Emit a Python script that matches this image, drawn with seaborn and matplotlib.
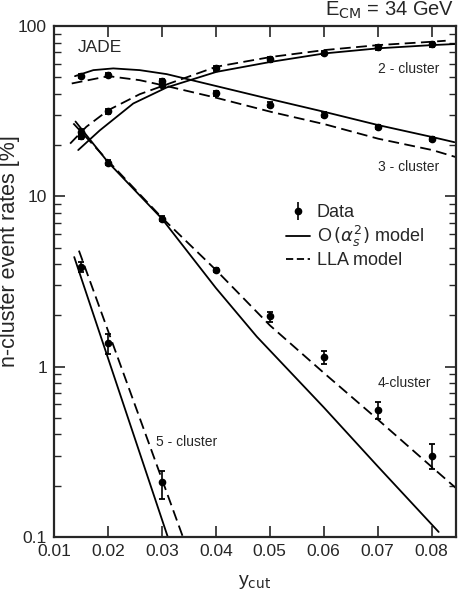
import numpy as np
import pandas as pd
import matplotlib
matplotlib.use("Agg")
import matplotlib.pyplot as plt
from matplotlib.lines import Line2D
from matplotlib.ticker import FixedLocator, LogLocator, NullFormatter
import seaborn as sns

# ---------------- data ----------------
ycut = [0.015, 0.02, 0.03, 0.04, 0.05, 0.06, 0.07, 0.08]
two_cl = [24.0, 31.6, 45.0, 56.4, 63.7, 69.6, 75.0, 78.0]
three_cl = [50.8, 51.5, 47.4, 40.2, 34.6, 30.2, 25.6, 21.8]
four_cl = [22.5, 15.8, 7.4, 3.7, 1.97, 1.14, 0.56, 0.30]
four_lo = [0.7, 0.5, 0.25, 0.12, 0.15, 0.10, 0.07, 0.05]
four_hi = [0.7, 0.5, 0.25, 0.12, 0.11, 0.10, 0.06, 0.05]
five_x = [0.015, 0.02, 0.03]
five_cl = [3.84, 1.37, 0.209]
five_lo = [0.24, 0.18, 0.041]
five_hi = [0.26, 0.19, 0.035]

# model curves (x, y)
c2_o_x = [0.0145, 0.0185, 0.0247, 0.0309, 0.0401, 0.0503, 0.0602, 0.0701, 0.0801, 0.0843]
c2_o_y = [18.7, 24.4, 35.1, 43.6, 53.8, 61.7, 69.1, 74.0, 77.3, 78.4]
c2_l_x = [0.0130, 0.0160, 0.0201, 0.0259, 0.0309, 0.0401, 0.0503, 0.0602, 0.0701, 0.0801, 0.0826]
c2_l_y = [20.4, 25.6, 32.1, 39.8, 45.4, 57.7, 65.9, 72.3, 77.3, 80.9, 82.0]
c3_o_x = [0.0139, 0.0173, 0.0210, 0.0259, 0.0309, 0.0401, 0.0503, 0.0602, 0.0701, 0.0801, 0.0842]
c3_o_y = [50.8, 55.1, 56.4, 55.1, 52.2, 44.4, 37.1, 31.3, 26.2, 22.3, 20.8]
c3_l_x = [0.0133, 0.0201, 0.0259, 0.0309, 0.0401, 0.0503, 0.0602, 0.0701, 0.0801, 0.0845]
c3_l_y = [46.0, 50.8, 48.1, 44.4, 37.9, 31.3, 26.5, 21.8, 18.7, 17.0]
c4_o_x = [0.0140, 0.0200, 0.0300, 0.0400, 0.0476, 0.0600, 0.0700, 0.0813]
c4_o_y = [27.5, 15.9, 7.4, 2.9, 1.5, 0.577, 0.26, 0.107]
c4_l_x = [0.0136, 0.0200, 0.0300, 0.0400, 0.0500, 0.0600, 0.0700, 0.0800, 0.0848]
c4_l_y = [26.8, 16.2, 7.5, 3.7, 1.75, 0.92, 0.49, 0.258, 0.19]
c5_o_x = [0.01376, 0.0311]
c5_o_y = [4.4, 0.1]
c5_l_x = [0.01463, 0.0339]
c5_l_y = [4.8, 0.1]

xticks = [0.01, 0.02, 0.03, 0.04, 0.05, 0.06, 0.07, 0.08]
xticklabels = ["0.01", "0.02", "0.03", "0.04", "0.05", "0.06", "0.07", "0.08"]
yticks = [0.1, 1, 10, 100]
yticklabels = ["0.1", "1", "10", "100"]

# ---------------- build table of curves ----------------
rows = []
for name, xs, ys, model in [
    ("c2o", c2_o_x, c2_o_y, "O"), ("c2l", c2_l_x, c2_l_y, "LLA"),
    ("c3o", c3_o_x, c3_o_y, "O"), ("c3l", c3_l_x, c3_l_y, "LLA"),
    ("c4o", c4_o_x, c4_o_y, "O"), ("c4l", c4_l_x, c4_l_y, "LLA"),
    ("c5o", c5_o_x, c5_o_y, "O"), ("c5l", c5_l_x, c5_l_y, "LLA"),
]:
    for i, (x, y) in enumerate(zip(xs, ys)):
        rows.append({"curve": name, "x": x, "y": y, "model": model, "order": i})
curves = pd.DataFrame(rows)

sns.set_style("ticks")
plt.rcParams["font.family"] = ["Liberation Sans", "DejaVu Sans"]
plt.rcParams["mathtext.fontset"] = "dejavusans"

fig = plt.figure(figsize=(4.61, 5.92), dpi=100)
ax = fig.add_axes([0.117, 0.093, 0.872, 0.863])

sns.lineplot(data=curves, x="x", y="y", units="curve", style="model",
             dashes={"O": "", "LLA": (6, 3)}, estimator=None, sort=False,
             color="black", linewidth=1.3, ax=ax, legend=False)

ebkw = dict(fmt="o", color="black", ms=4.5, capsize=2.5, elinewidth=1.2, capthick=1.3)
ax.errorbar(ycut, two_cl, yerr=[np.array(two_cl) * 0.03, np.array(two_cl) * 0.03], **ebkw)
ax.errorbar(ycut, three_cl, yerr=[np.array(three_cl) * 0.03, np.array(three_cl) * 0.03], **ebkw)
ax.errorbar(ycut, four_cl, yerr=[four_lo, four_hi], **ebkw)
ax.errorbar(five_x, five_cl, yerr=[five_lo, five_hi], **ebkw)

ax.set_yscale("log")
ax.set_xlim(0.01, 0.0845)
ax.set_ylim(0.1, 100)
ax.xaxis.set_major_locator(FixedLocator(xticks))
ax.set_xticklabels(xticklabels)
ax.yaxis.set_major_locator(FixedLocator(yticks))
ax.set_yticklabels(yticklabels)
ax.yaxis.set_minor_locator(LogLocator(base=10, subs=np.arange(2, 10)))
ax.yaxis.set_minor_formatter(NullFormatter())
ax.tick_params(axis="both", which="major", direction="in", length=8, width=1.2,
               top=True, right=True, labelsize=12.5, pad=5)
ax.tick_params(axis="y", which="minor", direction="in", length=5, width=1.0,
               right=True, left=True)
for s in ax.spines.values():
    s.set_linewidth(1.6)

ax.set_xlabel(r"y$_{\mathrm{cut}}$", fontsize=14, labelpad=10)
ax.set_ylabel("n-cluster event rates [%]", fontsize=15.5)
ax.yaxis.set_label_coords(-0.085, 0.56)

ax.text(0.0145, 75, "JADE", fontsize=12.5, va="center", ha="left")
ax.text(0.0700, 55.9, "2 - cluster", fontsize=10, va="center", ha="left")
ax.text(0.0700, 14.8, "3 - cluster", fontsize=10, va="center", ha="left")
ax.text(0.0700, 0.80, "4-cluster", fontsize=10, va="center", ha="left")
ax.text(0.0290, 0.359, "5 - cluster", fontsize=10, va="center", ha="left")
fig.text(0.985, 0.983, r"E$_{\mathrm{CM}}$ = 34 GeV", fontsize=14.5, ha="right", va="center")

handles = [
    Line2D([], [], color="black", lw=1.3),
    Line2D([], [], color="black", lw=1.3, dashes=(4, 2)),
]
data_handle = ax.errorbar([], [], yerr=[], **ebkw)
leg = ax.legend([data_handle, handles[0], handles[1]],
                ["Data", r"O$\,(\alpha_s^2)$ model", "LLA model"],
                loc="upper left", bbox_to_anchor=(0.56, 0.665), frameon=False,
                fontsize=13, handlelength=1.3, handletextpad=0.4, labelspacing=0.15,
                borderaxespad=0)

fig.savefig("out.png", dpi=100)
